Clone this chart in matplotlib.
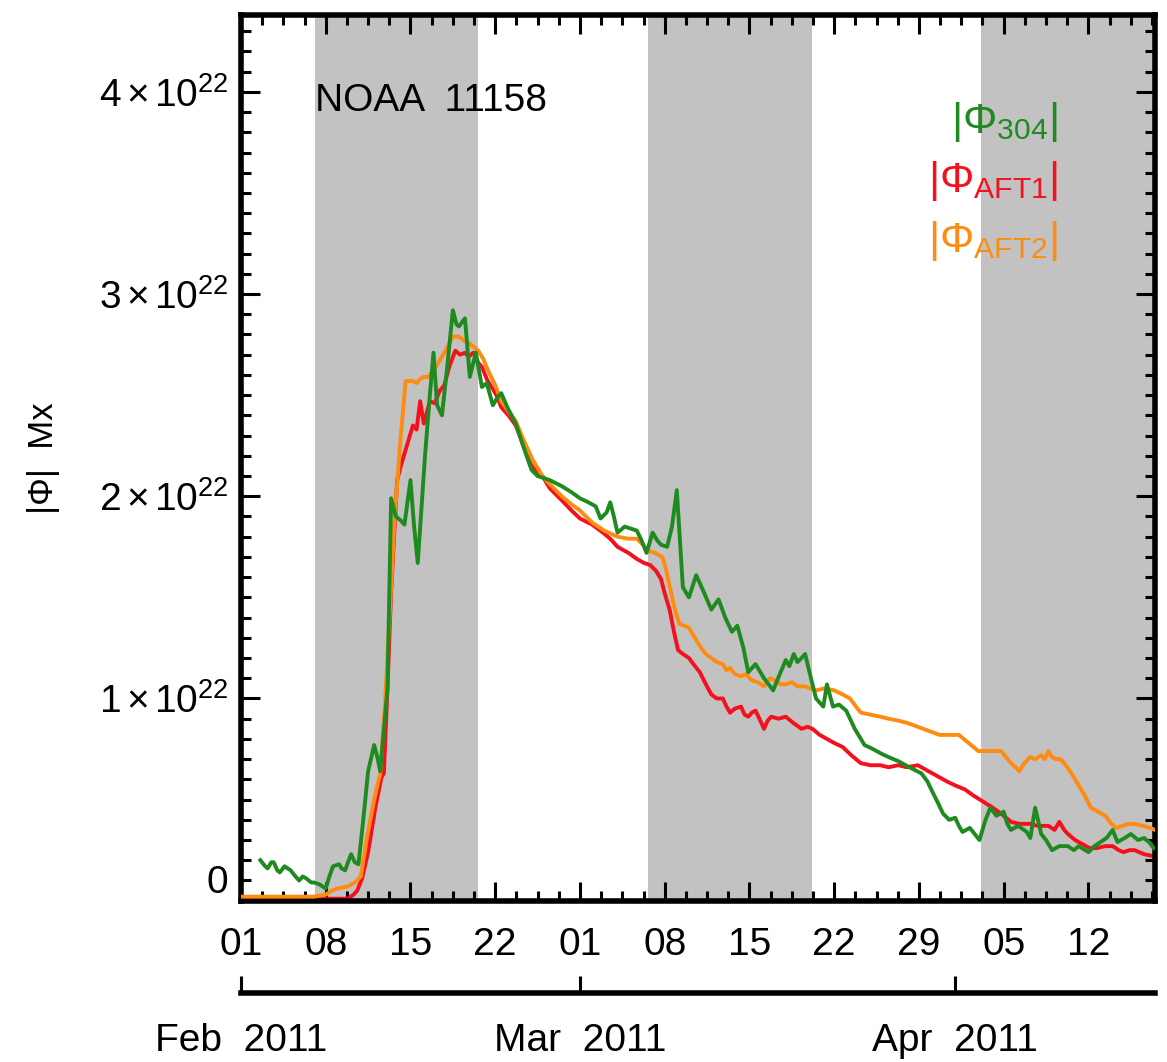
import numpy as np
import matplotlib
matplotlib.use("Agg")
import matplotlib.pyplot as plt
import matplotlib.dates as mdates
from matplotlib.ticker import FixedLocator, NullLocator

plt.rcParams['font.family'] = ['Liberation Sans', 'DejaVu Sans']
plt.rcParams['mathtext.fontset'] = 'custom'
plt.rcParams['mathtext.rm'] = 'Liberation Sans'
plt.rcParams['mathtext.it'] = 'Liberation Sans'
plt.rcParams['mathtext.bf'] = 'Liberation Sans:bold'
plt.rcParams['mathtext.default'] = 'rm'

# days since 2011-02-01, flux in units of 1e22 Mx
start = np.datetime64('2011-02-01T00:00')

days_304 = np.array([1.6, 2.0, 2.2, 2.5, 2.7, 3.0, 3.2, 3.6, 4.1, 4.5, 4.8, 5.1, 5.4, 5.8, 6.05, 6.5,
                     7.0, 7.3, 7.6, 8.1, 8.3, 8.6, 8.9, 9.1, 9.4, 9.7, 10.1, 10.5, 11.0, 11.3, 11.5,
                     12.1, 12.4, 12.8, 13.2, 13.5, 14.0, 14.3, 14.6, 15.2, 15.6, 15.9, 16.2, 16.6,
                     17.0, 17.5, 17.8, 18.0, 18.5, 18.9, 19.4, 19.9, 20.3, 20.8, 21.2, 21.5, 22.0,
                     22.7, 23.3, 24.0, 24.5, 25.0, 25.5, 26.5, 27.3, 28.0, 28.7, 29.3, 29.7, 30.2,
                     30.5, 30.8, 31.1, 31.7, 32.2, 32.7, 33.1, 33.5, 34.0, 34.4, 34.7, 35.2, 35.6,
                     36.0, 36.5, 37.0, 37.6, 38.2, 38.85, 39.45, 40.0, 40.55, 41.0, 41.5, 41.9, 42.5,
                     43.2, 43.96, 44.5, 45.0, 45.3, 45.66, 45.97, 46.3, 46.6, 47.0, 47.5, 48.1, 48.4,
                     48.9, 49.4, 49.99, 50.7, 51.5, 52.2, 52.8, 53.5, 54.3, 55.2, 56.2, 56.7, 57.1,
                     57.6, 58.0, 58.5, 59.0, 59.3, 59.6, 60.2, 60.6, 61.0, 61.5, 61.9, 62.4, 63.0,
                     63.3, 63.6, 64.2, 64.9, 65.2, 65.6, 66.1, 66.5, 67.0, 67.6, 68.3, 68.8, 69.2,
                     70.0, 70.5, 71.0, 71.5, 72.0, 72.4, 73.0, 73.5, 74.1, 74.6, 75.0, 75.4])
flux_304 = np.array([0.20, 0.17, 0.16, 0.19, 0.19, 0.15, 0.14, 0.17, 0.15, 0.12, 0.10, 0.12, 0.11, 0.09, 0.09, 0.08,
                     0.06, 0.12, 0.17, 0.18, 0.16, 0.15, 0.20, 0.23, 0.19, 0.18, 0.40, 0.64, 0.77, 0.70, 0.64,
                     1.05, 1.99, 1.90, 1.88, 1.86, 2.08, 1.85, 1.67, 2.20, 2.50, 2.71, 2.45, 2.40,
                     2.62, 2.92, 2.85, 2.84, 2.88, 2.59, 2.71, 2.54, 2.56, 2.45, 2.49, 2.51, 2.44,
                     2.36, 2.25, 2.13, 2.10, 2.09, 2.08, 2.05, 2.02, 1.99, 1.97, 1.95, 1.89, 1.92,
                     1.97, 1.90, 1.82, 1.85, 1.84, 1.83, 1.78, 1.72, 1.82, 1.78, 1.76, 1.75, 1.85,
                     2.03, 1.55, 1.50, 1.61, 1.53, 1.44, 1.49, 1.40, 1.33, 1.36, 1.25, 1.13, 1.17,
                     1.10, 1.04, 1.12, 1.19, 1.16, 1.22, 1.18, 1.20, 1.22, 1.12, 1.00, 0.96, 1.07,
                     0.96, 0.97, 0.94, 0.85, 0.77, 0.75, 0.73, 0.71, 0.69, 0.66, 0.63, 0.59, 0.54,
                     0.48, 0.43, 0.40, 0.41, 0.37, 0.34, 0.36, 0.33, 0.30, 0.40, 0.46, 0.42, 0.44,
                     0.38, 0.35, 0.37, 0.34, 0.31, 0.46, 0.33, 0.30, 0.25, 0.27, 0.27, 0.25, 0.27,
                     0.24, 0.27, 0.29, 0.31, 0.35, 0.29, 0.31, 0.33, 0.30, 0.31, 0.29, 0.26])

days_aft1 = np.array([0.0, 3.0, 6.0, 8.0, 8.8, 9.3, 9.6, 10.0, 10.5, 11.1, 11.6, 11.8, 12.1, 12.4, 12.9,
                      13.2, 13.7, 14.2, 14.5, 14.8, 15.1, 15.6, 16.0, 16.4, 16.8, 17.2, 17.7, 18.1,
                      18.5, 18.8, 19.2, 19.6, 19.9, 20.3, 20.7, 21.1, 21.5, 22.1, 22.7, 23.4, 24.0,
                      24.9, 25.5, 26.5, 27.3, 28.0, 29.0, 29.9, 30.5, 31.1, 32.0, 32.7, 33.3, 33.8,
                      34.3, 34.7, 35.0, 35.4, 35.8, 36.1, 36.5, 37.0, 37.5, 37.9, 38.4, 38.85, 39.3,
                      39.8, 40.1, 40.4, 40.8, 41.3, 41.6, 41.9, 42.2, 42.5, 42.9, 43.2, 43.5, 43.8,
                      44.4, 45.0, 45.6, 46.3, 46.8, 47.2, 47.8, 48.4, 49.0, 49.7, 50.4, 51.2, 52.0,
                      52.8, 53.5, 54.3, 55.0, 55.9, 56.8, 57.7, 58.3, 59.0, 59.8, 60.5, 61.3, 62.1,
                      62.8, 63.6, 64.3, 65.2, 65.8, 66.7, 67.2, 67.6, 68.0, 68.3, 68.9, 69.5, 70.1,
                      70.7, 71.4, 72.0, 72.5, 72.9, 73.4, 73.8, 74.6, 75.4])
flux_aft1 = np.array([0.01, 0.01, 0.01, 0.01, 0.01, 0.03, 0.05, 0.11, 0.24, 0.46, 0.61, 0.63, 1.05, 1.53, 2.08,
                      2.15, 2.25, 2.35, 2.33, 2.47, 2.36, 2.47, 2.46, 2.52, 2.55, 2.64, 2.72, 2.70,
                      2.71, 2.69, 2.71, 2.66, 2.64, 2.58, 2.54, 2.50, 2.44, 2.40, 2.35, 2.24, 2.15,
                      2.10, 2.04, 1.98, 1.93, 1.89, 1.86, 1.82, 1.79, 1.75, 1.72, 1.69, 1.67, 1.66,
                      1.63, 1.59, 1.52, 1.44, 1.32, 1.24, 1.22, 1.20, 1.16, 1.13, 1.07, 1.02, 1.00,
                      1.00, 0.96, 0.93, 0.95, 0.96, 0.92, 0.91, 0.93, 0.94, 0.89, 0.85, 0.89, 0.91,
                      0.90, 0.91, 0.88, 0.85, 0.86, 0.85, 0.82, 0.80, 0.78, 0.76, 0.72, 0.68, 0.67,
                      0.67, 0.66, 0.67, 0.66, 0.67, 0.64, 0.61, 0.59, 0.57, 0.55, 0.52, 0.49, 0.46,
                      0.43, 0.39, 0.38, 0.38, 0.37, 0.37, 0.35, 0.39, 0.35, 0.33, 0.30, 0.28, 0.26,
                      0.26, 0.27, 0.27, 0.25, 0.24, 0.25, 0.25, 0.23, 0.22])

days_aft2 = np.array([0.0, 3.0, 6.0, 7.0, 7.5, 8.0, 8.8, 9.4, 9.9, 10.4, 11.0, 11.5, 11.9, 12.3, 12.7,
                      13.2, 13.6, 14.2, 14.5, 14.8, 15.1, 15.5, 15.8, 16.1, 16.5, 16.9, 17.5, 18.0,
                      18.4, 18.8, 19.2, 19.6, 20.0, 20.5, 21.0, 21.5, 22.1, 22.7, 23.4, 24.1, 24.9,
                      25.5, 26.5, 27.3, 28.0, 29.0, 30.0, 31.1, 32.0, 32.7, 33.2, 33.6, 34.2, 34.8,
                      35.1, 35.4, 35.8, 36.2, 36.6, 37.0, 37.5, 37.9, 38.4, 38.85, 39.3, 39.8, 40.1,
                      40.4, 40.8, 41.3, 41.7, 42.2, 42.7, 43.2, 43.7, 44.1, 44.6, 45.0, 45.5, 46.0,
                      46.6, 47.0, 47.5, 48.2, 49.0, 49.7, 50.3, 50.8, 51.2, 52.0, 52.8, 53.5, 54.3,
                      55.0, 55.9, 56.8, 57.7, 58.5, 59.3, 60.1, 60.9, 61.8, 62.8, 63.2, 63.6, 64.0,
                      64.3, 64.7, 65.2, 65.6, 66.1, 66.4, 66.7, 67.0, 67.3, 67.7, 68.0, 68.6, 69.2,
                      69.7, 70.2, 70.8, 71.4, 71.9, 72.3, 72.8, 73.3, 73.8, 74.5, 75.1, 75.5])
flux_aft2 = np.array([0.02, 0.02, 0.02, 0.03, 0.05, 0.06, 0.07, 0.09, 0.12, 0.31, 0.50, 0.63, 0.98, 1.44, 1.90,
                      2.30, 2.57, 2.57, 2.56, 2.58, 2.59, 2.59, 2.62, 2.64, 2.68, 2.72, 2.79, 2.79,
                      2.77, 2.76, 2.74, 2.72, 2.68, 2.61, 2.55, 2.47, 2.42, 2.37, 2.27, 2.18, 2.10,
                      2.06, 2.00, 1.96, 1.93, 1.87, 1.83, 1.80, 1.79, 1.79, 1.76, 1.73, 1.72, 1.70,
                      1.64, 1.56, 1.45, 1.37, 1.36, 1.35, 1.30, 1.26, 1.22, 1.20, 1.18, 1.17, 1.14,
                      1.15, 1.12, 1.11, 1.12, 1.09, 1.08, 1.06, 1.10, 1.09, 1.07, 1.07, 1.08, 1.06,
                      1.06, 1.05, 1.04, 1.05, 1.04, 1.02, 1.00, 0.96, 0.93, 0.92, 0.91, 0.90, 0.89,
                      0.88, 0.86, 0.84, 0.82, 0.82, 0.82, 0.78, 0.74, 0.74, 0.74, 0.71, 0.68, 0.66,
                      0.64, 0.68, 0.71, 0.70, 0.72, 0.70, 0.74, 0.71, 0.70, 0.70, 0.68, 0.63, 0.57,
                      0.52, 0.46, 0.44, 0.42, 0.38, 0.36, 0.37, 0.38, 0.38, 0.37, 0.36, 0.35])

# shaded intervals (days since Feb 1)
band_start = [6.1, 33.6, 61.1]
band_end = [19.6, 47.2, 75.5]

x_end = 75.5
y_max = 4.38
y_ticks = [0, 1, 2, 3, 4]
y_ticklabels = ['0'] + [r'$%d\,{\times}\,10^{22}$' % v for v in y_ticks[1:]]
month_days = [0, 28, 59]
month_labels = ['Feb  2011', 'Mar  2011', 'Apr  2011']


def to_date(d):
    return start + (np.asarray(d) * 24 * 60).round().astype('timedelta64[m]')


W, H = 1167, 1062
fig = plt.figure(figsize=(W / 100, H / 100), dpi=100)
ax = fig.add_axes([241 / W, 1 - 900.7 / H, (1155 - 241) / W, (900.7 - 15) / H])

for s, e in zip(band_start, band_end):
    ax.axvspan(to_date(s), to_date(e), color='#c2c2c2', lw=0, zorder=0)

lw = 2.8
ax.plot(to_date(days_aft1), flux_aft1 * 1e22, color='#f5101e', lw=lw, zorder=2)
ax.plot(to_date(days_aft2), flux_aft2 * 1e22, color='#ff8c10', lw=lw, zorder=3)
ax.plot(to_date(days_304), flux_304 * 1e22, color='#1f8a1f', lw=lw, zorder=4)

ax.set_xlim(to_date(0), to_date(x_end))
ax.set_ylim(0, y_max * 1e22)

# weekly major ticks, minor every quarter week
weeks = to_date(np.arange(0, 76, 7))
ax.xaxis.set_major_locator(FixedLocator(mdates.date2num(weeks)))
ax.xaxis.set_major_formatter(mdates.DateFormatter('%d'))
ax.xaxis.set_minor_locator(FixedLocator(mdates.date2num(to_date(np.arange(0, 76, 1.75)))))

ax.set_yticks([v * 1e22 for v in y_ticks], labels=y_ticklabels)
ax.yaxis.set_minor_locator(FixedLocator(np.arange(0, 4.4, 0.1) * 1e22))

ax.tick_params(which='both', direction='in', top=True, right=True, width=2.2, colors='black')
ax.tick_params(which='major', length=13.5)
ax.tick_params(which='minor', length=7)
ax.tick_params(axis='x', which='major', labelsize=28, pad=19)
ax.tick_params(axis='y', which='major', labelsize=28, pad=9)
for sp in ax.spines.values():
    sp.set_linewidth(4)

for lbl in ax.get_yticklabels():
    if lbl.get_text() == '0':
        lbl.set_va('bottom')

# month axis underneath
sec = ax.secondary_xaxis(-0.104)
sec.set_xticks(mdates.date2num(to_date(month_days)), labels=month_labels)
sec.xaxis.set_minor_locator(NullLocator())
sec.tick_params(direction='in', length=12.5, width=2.2, labelsize=28, pad=22)
sec.spines['bottom'].set_linewidth(4)

fig.text(315 / W, 1 - 111 / H, 'NOAA  11158', fontsize=28, va='baseline', ha='left')
fig.text(43 / W, 1 - 458 / H, '|\u03a6|  Mx', fontsize=25, rotation=90, ha='center', va='center')

legend_rows = [(r'$|\Phi_{304}|$', '#1f8a1f', 133),
               (r'$|\Phi_{AFT1}|$', '#f5101e', 192),
               (r'$|\Phi_{AFT2}|$', '#ff8c10', 252)]
for txt, col, yb in legend_rows:
    fig.text(1058 / W, 1 - yb / H, txt, color=col, fontsize=31, ha='right', va='baseline')

fig.savefig('out.png', dpi=100)
